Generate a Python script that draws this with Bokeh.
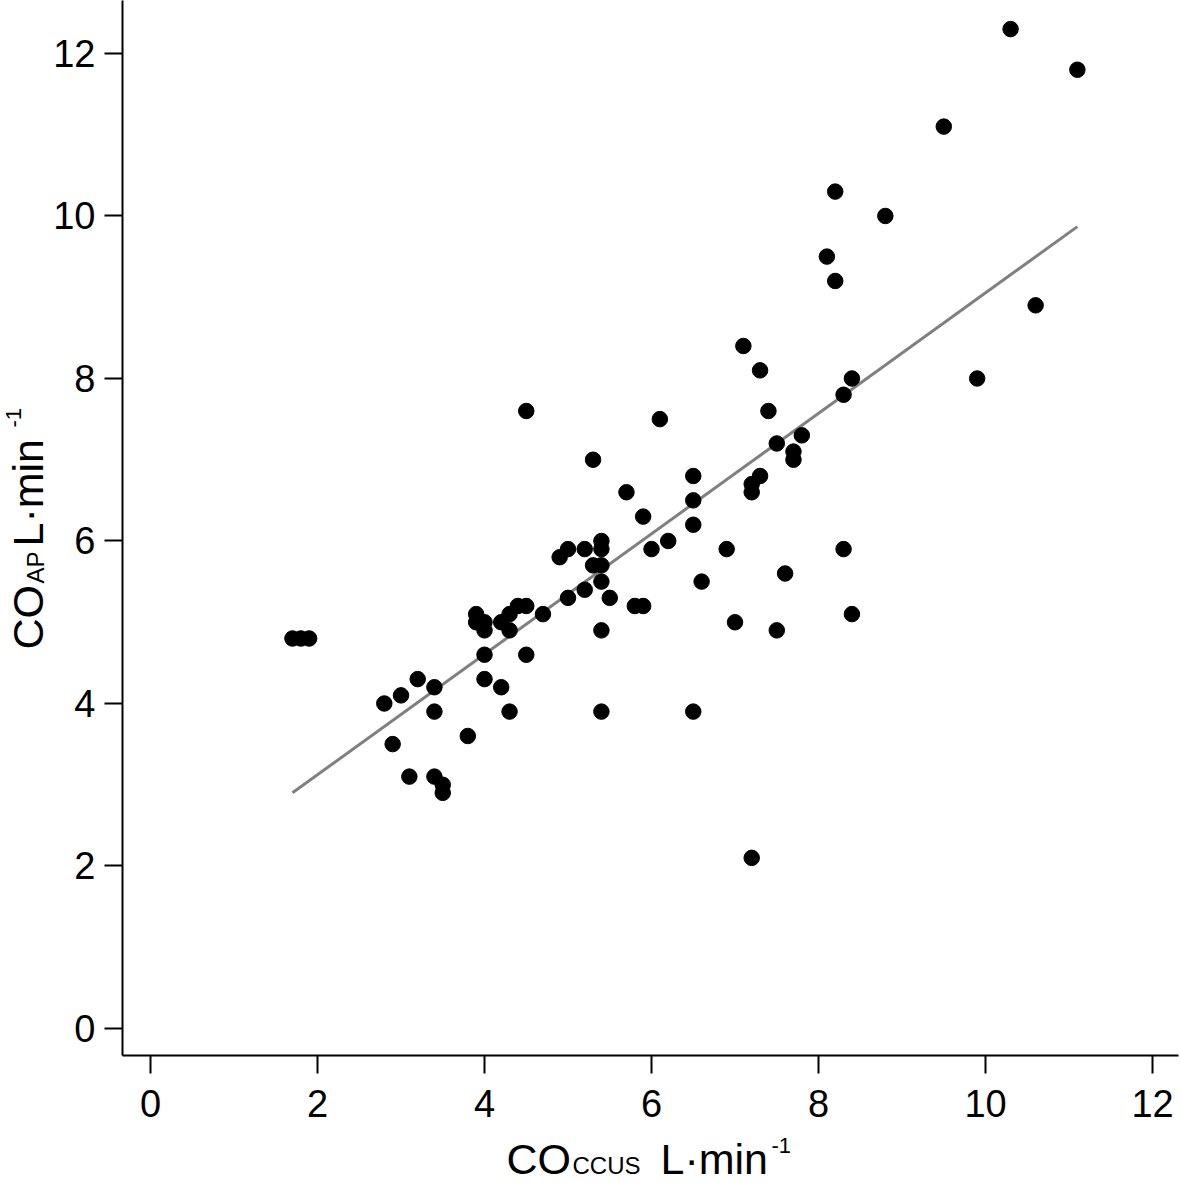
import math
import numpy as np
from bokeh.plotting import figure
from bokeh.models import Label, FixedTicker, Range1d
from bokeh.layouts import row, column
from bokeh.embed import file_html
from bokeh.resources import INLINE

# Data
co_ccus = [1.7, 1.8, 1.9, 2.8, 2.9, 3.0, 3.1, 3.2, 3.4, 3.4, 3.4, 3.5, 3.5,
           3.8, 3.9, 3.9, 4.0, 4.0, 4.0, 4.0, 4.2, 4.2, 4.3, 4.3, 4.3, 4.4,
           4.5, 4.5, 4.5, 4.7, 4.9, 5.0, 5.0, 5.2, 5.2, 5.3, 5.3, 5.4, 5.4,
           5.4, 5.4, 5.4, 5.4, 5.5, 5.7, 5.8, 5.9, 5.9, 6.0, 6.1, 6.2, 6.5,
           6.5, 6.5, 6.5, 6.6, 6.9, 7.0, 7.1, 7.2, 7.2, 7.2, 7.3, 7.3, 7.4,
           7.5, 7.5, 7.6, 7.7, 7.7, 7.8, 8.1, 8.2, 8.2, 8.3, 8.3, 8.4, 8.4,
           8.8, 9.5, 9.9, 10.3, 10.6, 11.1]
co_ap = [4.8, 4.8, 4.8, 4.0, 3.5, 4.1, 3.1, 4.3, 4.2, 3.9, 3.1, 3.0, 2.9,
         3.6, 5.1, 5.0, 5.0, 4.9, 4.6, 4.3, 5.0, 4.2, 5.1, 4.9, 3.9, 5.2,
         5.2, 4.6, 7.6, 5.1, 5.8, 5.9, 5.3, 5.9, 5.4, 7.0, 5.7, 6.0, 5.9,
         5.7, 5.5, 4.9, 3.9, 5.3, 6.6, 5.2, 5.2, 6.3, 5.9, 7.5, 6.0, 6.8,
         6.5, 6.2, 3.9, 5.5, 5.9, 5.0, 8.4, 6.7, 6.6, 2.1, 8.1, 6.8, 7.6,
         7.2, 4.9, 5.6, 7.1, 7.0, 7.3, 9.5, 10.3, 9.2, 7.8, 5.9, 8.0, 5.1,
         10.0, 11.1, 8.0, 12.3, 8.9, 11.8]
x_ticks = [0, 2, 4, 6, 8, 10, 12]
y_ticks = [0, 2, 4, 6, 8, 10, 12]

slope, intercept = np.polyfit(co_ccus, co_ap, 1)
fit_x = [min(co_ccus), max(co_ccus)]
fit_y = [intercept + slope * v for v in fit_x]

FONT = "Liberation Sans"
W, H = 1181, 1183
LEFT_W = 50        # strip holding the y title
BOTTOM_H = 50      # strip holding the x title
FRAME_L, FRAME_R, FRAME_B = 122, 1178, 1055   # page pixels of the plot frame

p = figure(width=W - LEFT_W, height=H - BOTTOM_H, output_backend="svg",
           toolbar_location=None,
           x_range=(-0.3353, 12.311), y_range=(-0.3323, 12.652),
           min_border_left=FRAME_L - LEFT_W, min_border_right=W - FRAME_R,
           min_border_top=0, min_border_bottom=(H - BOTTOM_H) - FRAME_B)
p.outline_line_color = None
p.grid.grid_line_color = None
p.background_fill_color = "white"
p.border_fill_color = "white"

p.line(fit_x, fit_y, line_color="#808080", line_width=3)
p.scatter(co_ccus, co_ap, size=15.5, fill_color="black", line_color="black")

for ax, ticks in ((p.xaxis[0], x_ticks), (p.yaxis[0], y_ticks)):
    ax.ticker = FixedTicker(ticks=ticks)
    ax.minor_tick_line_color = None
    ax.major_tick_in = 0
    ax.major_tick_out = 18
    ax.major_tick_line_width = 2
    ax.axis_line_width = 2
    ax.axis_line_color = "black"
    ax.major_tick_line_color = "black"
    ax.major_label_text_font = FONT
    ax.major_label_text_font_size = "38px"
    ax.major_label_text_color = "black"
p.xaxis[0].major_label_standoff = 16
p.yaxis[0].major_label_standoff = 9


def strip(width, height, xr, yr):
    f = figure(width=width, height=height, output_backend="svg",
               toolbar_location=None, x_axis_location=None, y_axis_location=None,
               x_range=Range1d(*xr), y_range=Range1d(*yr),
               min_border=0, min_border_left=0, min_border_right=0,
               min_border_top=0, min_border_bottom=0)
    f.outline_line_color = None
    f.grid.grid_line_color = None
    return f


def lab(f, x, y, text, size, angle=0.0):
    f.add_layout(Label(x=x, y=y, text=text, text_font=FONT, text_font_size=size,
                       text_color="black", text_align="left",
                       text_baseline="middle", angle=angle))

# x title strip: its frame is aligned with the plot frame, so use page pixels
xt = strip(W - LEFT_W, BOTTOM_H, (FRAME_L, FRAME_R), (H, H - BOTTOM_H))
lab(xt, 506, 1158, "CO", "43px")
lab(xt, 572, 1165, "CCUS", "24px")
lab(xt, 660, 1158, "L\u00b7min", "43px")
lab(xt, 771, 1145, "-1", "22px")

# y title strip (rotated text), page pixels
yt = strip(LEFT_W, H, (0, LEFT_W), (H, 0))
lab(yt, 27, 649, "CO", "43px", math.pi / 2)
lab(yt, 35, 583, "AP", "24px", math.pi / 2)
lab(yt, 27, 546, "L\u00b7min", "43px", math.pi / 2)
lab(yt, 13, 427, "-1", "22px", math.pi / 2)

layout = row(yt, column(p, xt))
open("out.html", "w").write(file_html(layout, INLINE))
